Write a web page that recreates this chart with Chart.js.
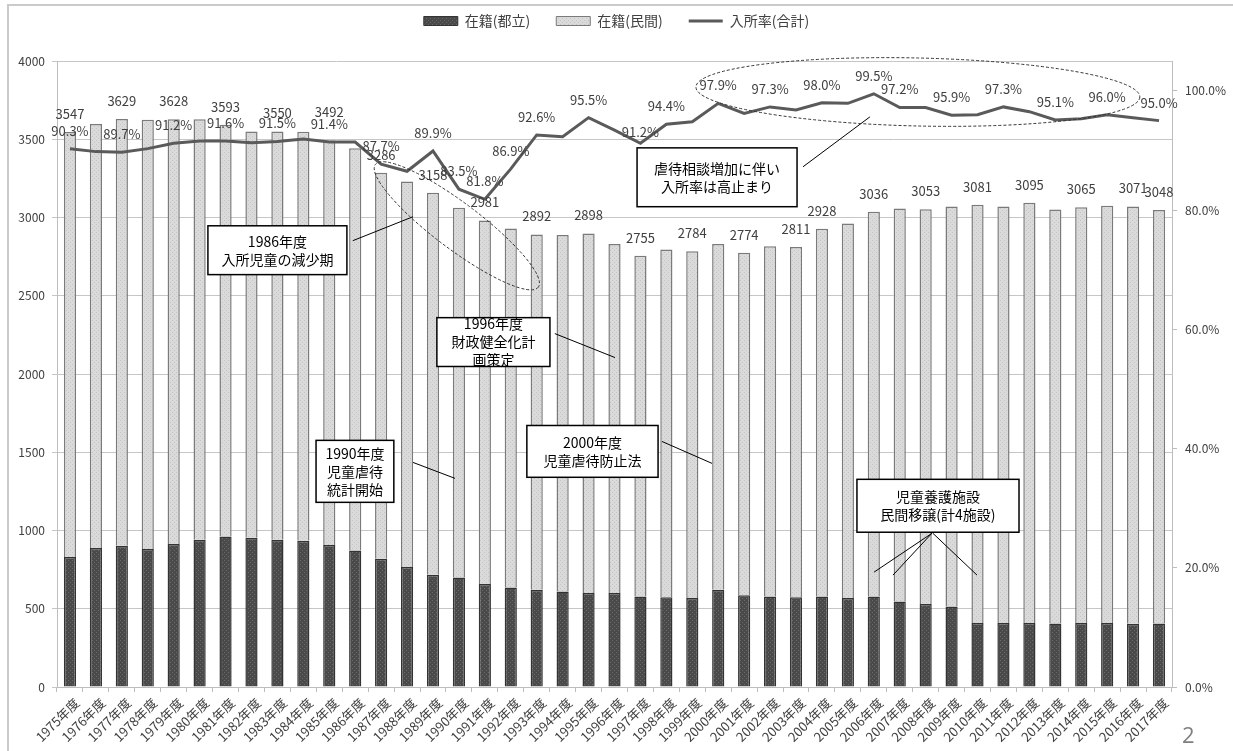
<!DOCTYPE html>
<html lang="ja">
<head>
<meta charset="utf-8">
<title>児童養護施設 在籍児童数と入所率の推移</title>
<script src="https://cdn.jsdelivr.net/npm/chart.js@4.4.1/dist/chart.umd.min.js"></script>
<style>
  html, body { margin: 0; padding: 0; background: #fff; }
  #wrap { position: relative; width: 1233px; height: 751px; overflow: hidden; }
  #frame { position: absolute; left: 7px; top: 4px; right: -10px; bottom: -10px; border-left: 2px solid #cacaca; border-top: 2px solid #cacaca; }
  #page { position: absolute; left: 1182px; top: 719px; font: 22px 'Open Sans', sans-serif; color: #808080; }
  canvas { position: absolute; left: 0; top: 0; }
</style>
</head>
<body>
<div id="wrap">
  <div id="frame"></div>
  <canvas id="chart" width="1233" height="751"></canvas>
  <div id="page">2</div>
</div>
<script>
const labels = [
  '1975年度', '1976年度', '1977年度', '1978年度', '1979年度', '1980年度', '1981年度', '1982年度', '1983年度', '1984年度',
  '1985年度', '1986年度', '1987年度', '1988年度', '1989年度', '1990年度', '1991年度', '1992年度', '1993年度', '1994年度',
  '1995年度', '1996年度', '1997年度', '1998年度', '1999年度', '2000年度', '2001年度', '2002年度', '2003年度', '2004年度',
  '2005年度', '2006年度', '2007年度', '2008年度', '2009年度', '2010年度', '2011年度', '2012年度', '2013年度', '2014年度',
  '2015年度', '2016年度', '2017年度'
];

// 在籍（都立）
const toritsu = [
  830, 888, 902, 881, 913, 941, 962, 953, 941, 934,
  907, 872, 820, 767, 717, 700, 658, 636, 622, 611,
  601, 601, 579, 573, 569, 622, 586, 579, 573, 579,
  569, 579, 547, 530, 515, 409, 409, 409, 406, 409,
  409, 404, 406
];

// 在籍（民間）
const minkan = [
  2717, 2709, 2727, 2744, 2715, 2686, 2631, 2596, 2609, 2614,
  2585, 2571, 2466, 2463, 2441, 2363, 2323, 2294, 2270, 2277,
  2297, 2229, 2176, 2223, 2215, 2208, 2188, 2237, 2238, 2349,
  2393, 2457, 2511, 2523, 2556, 2672, 2662, 2686, 2645, 2656,
  2666, 2667, 2642
];

// 入所率（合計）%
const rate = [
  90.3, 89.8, 89.7, 90.3, 91.2, 91.6, 91.6, 91.3, 91.5, 91.9,
  91.4, 91.4, 87.7, 86.5, 89.9, 83.5, 81.8, 86.9, 92.6, 92.3,
  95.5, 93.4, 91.2, 94.4, 94.8, 97.9, 96.2, 97.3, 96.8, 98.0,
  97.9, 99.5, 97.2, 97.2, 95.9, 96.0, 97.3, 96.5, 95.1, 95.3,
  96.0, 95.5, 95.0
];

const leftTicks = [0, 500, 1000, 1500, 2000, 2500, 3000, 3500, 4000];
const rightTicks = [0, 20, 40, 60, 80, 100];

// years that carry a value label in the original
const totalLabelYears = [1975, 1977, 1979, 1981, 1983, 1985, 1987, 1989, 1991, 1993, 1995, 1997, 1999, 2001, 2003, 2004, 2006, 2008, 2010, 2012, 2014, 2016, 2017];
const rateLabelYears = [1975, 1977, 1979, 1981, 1983, 1985, 1987, 1989, 1990, 1991, 1992, 1993, 1995, 1997, 1998, 2000, 2002, 2004, 2006, 2007, 2009, 2011, 2013, 2015, 2017];

const FONT = "'Noto Sans CJK JP', 'Noto Sans', sans-serif";
const TEXT = '#404040';

function makePattern(base, dot) {
  const c = document.createElement('canvas');
  c.width = 4; c.height = 4;
  const g = c.getContext('2d');
  g.fillStyle = base;
  g.fillRect(0, 0, 4, 4);
  g.fillStyle = dot;
  g.fillRect(0, 0, 1, 1);
  g.fillRect(2, 2, 1, 1);
  return g.createPattern(c, 'repeat');
}

const darkFill = makePattern('#4a4a4a', '#6a6a6a');
const lightFill = makePattern('#dadada', '#c4c4c4');

function yearIndex(y) {
  return labels.indexOf(y + '年度');
}

// value labels above bars and line points
const valueLabels = {
  id: 'valueLabels',
  afterDatasetsDraw(chart) {
    const ctx = chart.ctx;
    const top = chart.getDatasetMeta(1);
    const line = chart.getDatasetMeta(2);
    ctx.save();
    ctx.font = '13px ' + FONT;
    ctx.fillStyle = TEXT;
    ctx.textAlign = 'center';
    ctx.textBaseline = 'middle';
    totalLabelYears.forEach(y => {
      const i = yearIndex(y);
      const bar = top.data[i];
      const lift = y === 1985 ? 28 : 18;
      ctx.fillText(String(toritsu[i] + minkan[i]), bar.x, bar.y - lift);
    });
    rateLabelYears.forEach(y => {
      const i = yearIndex(y);
      const pt = line.data[i];
      const lift = y === 1997 ? 11 : 18;
      ctx.fillText(rate[i].toFixed(1) + '%', pt.x, pt.y - lift);
    });
    ctx.restore();
  }
};

// call-out boxes, leader lines and dashed ellipses (placed in axis units)
const notes = {
  id: 'notes',
  afterDraw(chart) {
    const ctx = chart.ctx;
    const xs = chart.scales.x;
    const ys = chart.scales.y;
    const P = (i, v) => [xs.getPixelForValue(i), ys.getPixelForValue(v)];

    const boxes = [
      { text: ['1986年度', '入所児童の減少期'], a: [5.32, 2947], b: [10.68, 2635] },
      { text: ['1996年度', '財政健全化計', '画策定'], a: [14.15, 2360], b: [18.51, 2048] },
      { text: ['1990年度', '児童虐待', '統計開始'], a: [9.49, 1576], b: [12.49, 1180] },
      { text: ['2000年度', '児童虐待防止法'], a: [17.62, 1671], b: [22.68, 1340] },
      { text: ['虐待相談増加に伴い', '入所率は高止まり'], a: [21.87, 3445], b: [28.04, 3069] },
      { text: ['児童養護施設', '民間移譲(計4施設)'], a: [30.35, 1327], b: [36.6, 989] }
    ];
    const leaders = [
      [10.91, 2852, 13.23, 3005],
      [18.7, 2258, 21.02, 2105],
      [13.23, 1435, 14.85, 1333],
      [22.83, 1569, 24.76, 1429],
      [28.27, 3324, 30.85, 3643],
      [33.24, 982, 31.01, 734],
      [33.24, 982, 31.74, 715],
      [33.28, 982, 34.98, 715]
    ];
    const ellipses = [
      { c: [14.92, 2947], rx: 102, ry: 23, rot: 37 },
      { c: [32.7, 3802], rx: 222, ry: 34, rot: 1.3 }
    ];

    ctx.save();
    ctx.strokeStyle = '#000';
    ctx.lineWidth = 1;
    leaders.forEach(l => {
      const p = P(l[0], l[1]);
      const q = P(l[2], l[3]);
      ctx.beginPath();
      ctx.moveTo(p[0], p[1]);
      ctx.lineTo(q[0], q[1]);
      ctx.stroke();
    });

    ctx.setLineDash([3, 2]);
    ctx.strokeStyle = '#333';
    ellipses.forEach(e => {
      const c = P(e.c[0], e.c[1]);
      ctx.beginPath();
      ctx.ellipse(c[0], c[1], e.rx, e.ry, e.rot * Math.PI / 180, 0, Math.PI * 2);
      ctx.stroke();
    });
    ctx.setLineDash([]);

    ctx.font = '14px ' + FONT;
    ctx.textAlign = 'center';
    ctx.textBaseline = 'middle';
    boxes.forEach(bx => {
      const a = P(bx.a[0], bx.a[1]);
      const b = P(bx.b[0], bx.b[1]);
      ctx.fillStyle = '#fff';
      ctx.fillRect(a[0], a[1], b[0] - a[0], b[1] - a[1]);
      ctx.lineWidth = 1.5;
      ctx.strokeStyle = '#000';
      ctx.strokeRect(a[0], a[1], b[0] - a[0], b[1] - a[1]);
      ctx.fillStyle = '#000';
      const cx = (a[0] + b[0]) / 2;
      const cy = (a[1] + b[1]) / 2;
      const lh = 18;
      bx.text.forEach((t, k) => {
        ctx.fillText(t, cx, cy + (k - (bx.text.length - 1) / 2) * lh);
      });
    });
    ctx.restore();
  }
};

// keep the legend band at a fixed height so the plot area lines up
const legendBand = {
  id: 'legendBand',
  afterInit(chart) {
    const lg = chart.legend;
    const fit = lg.fit;
    lg.fit = function () {
      fit.call(this);
      this.height = 73;
    };
  }
};

const chart = new Chart(document.getElementById('chart'), {
  type: 'bar',
  data: {
    labels: labels,
    datasets: [
      {
        label: '在籍(都立)',
        data: toritsu,
        backgroundColor: darkFill,
        borderColor: '#333333',
        borderWidth: 1.5,
        barPercentage: 0.47,
        categoryPercentage: 1,
        yAxisID: 'y',
        stack: 's'
      },
      {
        label: '在籍(民間)',
        data: minkan,
        backgroundColor: lightFill,
        borderColor: '#7a7a7a',
        borderWidth: 1.5,
        barPercentage: 0.47,
        categoryPercentage: 1,
        yAxisID: 'y',
        stack: 's'
      },
      {
        type: 'line',
        label: '入所率(合計)',
        data: rate,
        borderColor: '#5a5a5a',
        backgroundColor: '#5a5a5a',
        borderWidth: 3,
        pointRadius: 0,
        tension: 0,
        yAxisID: 'y1',
        order: -1
      }
    ]
  },
  options: {
    responsive: false,
    animation: false,
    layout: { padding: { top: -12, left: 0, right: 0, bottom: 0 } },
    plugins: {
      tooltip: { enabled: false },
      legend: {
        position: 'top',
        labels: {
          sort: (a, b) => a.datasetIndex - b.datasetIndex,
          usePointStyle: true,
          pointStyleWidth: 34,
          boxHeight: 9,
          padding: 26,
          color: TEXT,
          font: { family: FONT, size: 14 },
          generateLabels(chart) {
            const items = Chart.defaults.plugins.legend.labels.generateLabels(chart);
            items.forEach(it => {
              it.pointStyle = it.datasetIndex === 2 ? 'line' : 'rect';
              if (it.datasetIndex !== 2) it.lineWidth = 1;
            });
            return items;
          }
        }
      }
    },
    scales: {
      x: {
        stacked: true,
        grid: { offset: true, drawOnChartArea: false, tickLength: 5, color: '#bdbdbd' },
        border: { color: '#bdbdbd' },
        ticks: {
          autoSkip: false,
          maxRotation: 45,
          minRotation: 45,
          padding: 3,
          labelOffset: 7,
          color: TEXT,
          font: { family: FONT, size: 13 }
        },
        afterFit(scale) { scale.height = 64; }
      },
      y: {
        stacked: true,
        min: 0,
        max: 4000,
        afterBuildTicks(scale) { scale.ticks = leftTicks.map(v => ({ value: v })); },
        grid: { color: '#c6c6c6', tickLength: 5, lineWidth: 1 },
        border: { color: '#bdbdbd' },
        ticks: { padding: 7, color: TEXT, font: { family: FONT, size: 12 }, callback: v => String(v) },
        afterFit(scale) { scale.width = 57; }
      },
      y1: {
        position: 'right',
        min: 0,
        max: 105,
        afterBuildTicks(scale) { scale.ticks = rightTicks.map(v => ({ value: v })); },
        grid: { drawOnChartArea: false, tickLength: 5, color: '#bdbdbd' },
        border: { color: '#bdbdbd' },
        ticks: {
          padding: 8,
          color: TEXT,
          font: { family: FONT, size: 12 },
          callback: v => v.toFixed(1) + '%'
        },
        afterFit(scale) { scale.width = 61; }
      }
    }
  },
  plugins: [legendBand, valueLabels, notes]
});
</script>
</body>
</html>
